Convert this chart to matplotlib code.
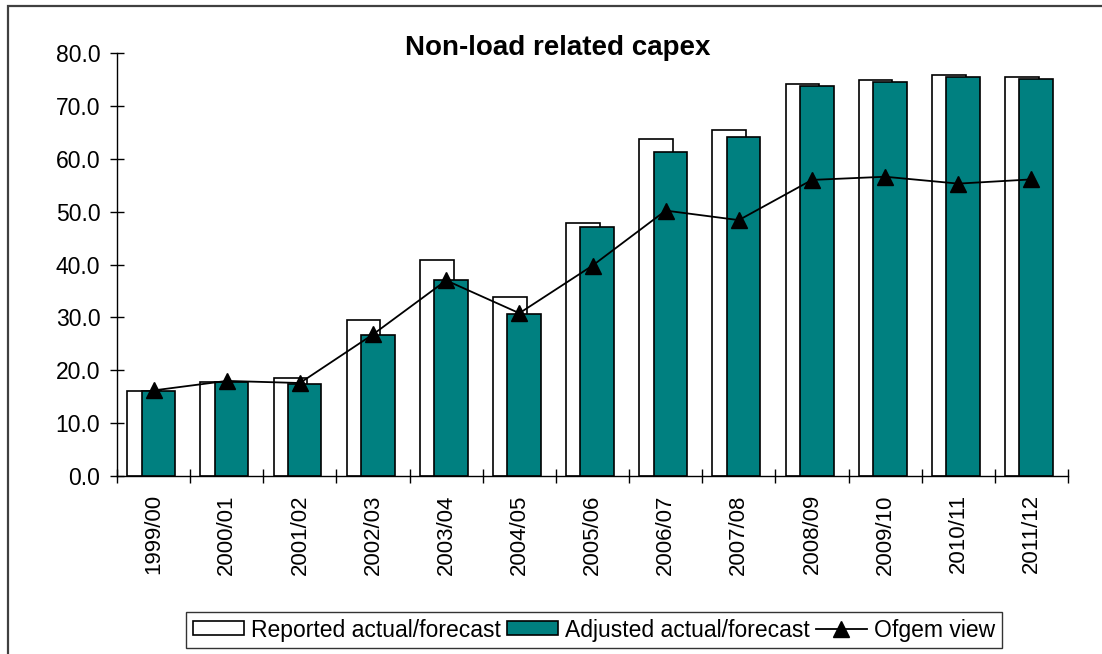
import matplotlib.pyplot as plt
import numpy as np
from matplotlib.patches import Rectangle

plt.rcParams["font.family"] = ["Liberation Sans", "DejaVu Sans"]

years = [
    "1999/00", "2000/01", "2001/02", "2002/03", "2003/04", "2004/05", "2005/06",
    "2006/07", "2007/08", "2008/09", "2009/10", "2010/11", "2011/12",
]
reported = [16.1, 17.8, 18.5, 29.6, 40.8, 33.8, 47.8, 63.7, 65.4, 74.2, 74.8, 75.8, 75.5]
adjusted = [16.1, 17.8, 17.5, 26.6, 37.1, 30.6, 47.1, 61.3, 64.1, 73.8, 74.5, 75.5, 75.1]
ofgem = [16.2, 18.0, 17.6, 26.8, 37.0, 30.8, 39.8, 50.2, 48.4, 56.0, 56.6, 55.3, 56.1]

teal = "#008080"
x = np.arange(len(years))
bar_w = 0.46

fig = plt.figure(figsize=(11.02, 6.54), dpi=100)
ax = fig.add_axes([117 / 1102, 0.272, 951 / 1102, 0.647])

rep = ax.bar(x - 0.13, reported, width=bar_w, color="white", edgecolor="black",
             linewidth=1.2, label="Reported actual/forecast", zorder=2)
adj = ax.bar(x + 0.065, adjusted, width=bar_w, color=teal, edgecolor="black",
             linewidth=1.2, label="Adjusted actual/forecast", zorder=3)
line, = ax.plot(x, ofgem, color="black", linewidth=1.3, marker="^", markersize=11,
                label="Ofgem view", zorder=4)

ax.set_xlim(-0.5, len(years) - 0.5)
ax.set_ylim(0, 80)
ax.set_yticks(np.arange(0, 81, 10))
ax.set_yticklabels([f"{v:.1f}" for v in np.arange(0, 81, 10)])
ax.set_xticks(x)
ax.set_xticklabels(years, rotation=90)
ax.set_xticks(np.arange(-0.5, len(years)), minor=True)

ax.tick_params(axis="y", direction="inout", length=10, width=1, pad=7, labelsize=16.5)
ax.tick_params(axis="x", which="major", length=0, pad=13, labelsize=16)
ax.tick_params(axis="x", which="minor", direction="inout", length=10, width=1)

for side in ["top", "right"]:
    ax.spines[side].set_visible(False)
for side in ["left", "bottom"]:
    ax.spines[side].set_linewidth(1)

fig.text(558 / 1102, 1 - 55 / 654, "Non-load related capex", ha="center",
         va="baseline", fontsize=20, fontweight="bold")

leg = fig.legend(handles=[rep, adj, line], loc="center",
                 bbox_to_anchor=(594 / 1102, 1 - 630 / 654), ncol=3,
                 fontsize=16.5, frameon=True, fancybox=False, handlelength=2.2,
                 handleheight=0.55, handletextpad=0.3, columnspacing=0.3,
                 borderpad=0.3, borderaxespad=0)
leg.get_frame().set_edgecolor("black")
leg.get_frame().set_linewidth(1)

# outer chart border, running off the right and bottom edges
fig.patches.append(Rectangle((8 / 1102, -0.1), 1.2, 1 - 6 / 654 + 0.1,
                             transform=fig.transFigure, fill=False,
                             edgecolor="#404040", linewidth=1.6))

fig.savefig("out.png", dpi=100)
